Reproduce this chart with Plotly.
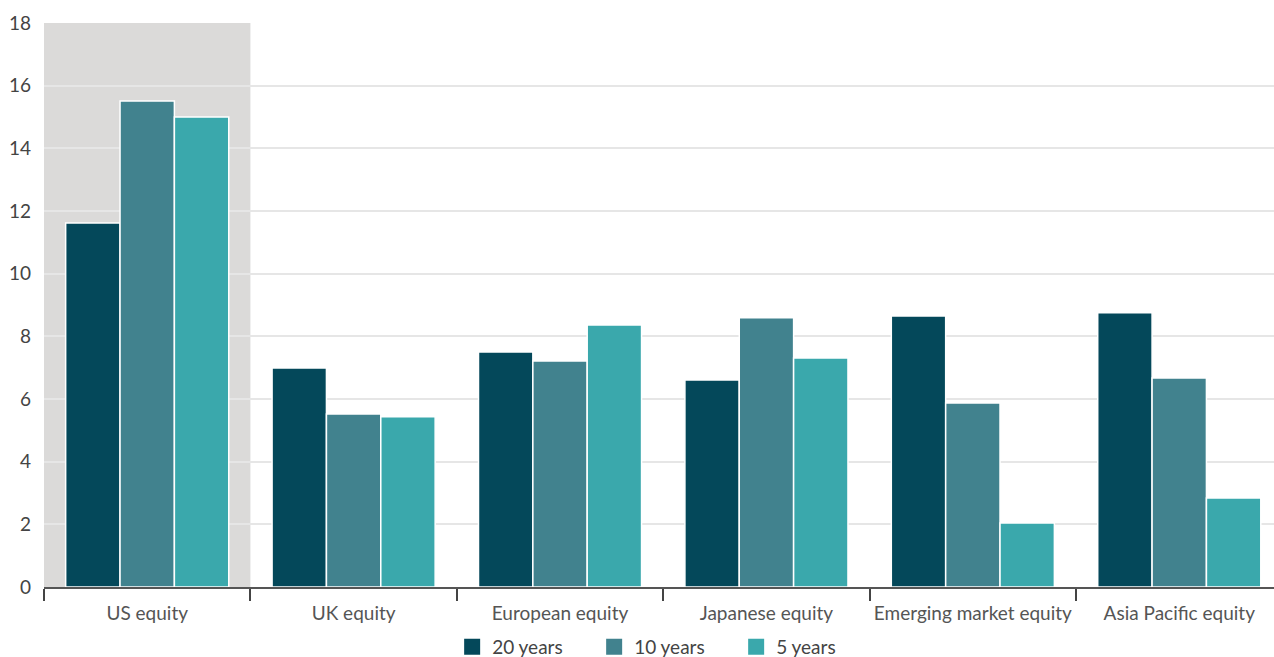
import plotly.graph_objects as go

categories = ["US equity", "UK equity", "European equity", "Japanese equity",
              "Emerging market equity", "Asia Pacific equity"]
series_names = ["20 years", "10 years", "5 years"]
returns_20y = [11.62, 6.99, 7.50, 6.61, 8.65, 8.75]
returns_10y = [15.51, 5.52, 7.21, 8.59, 5.87, 6.67]
returns_5y = [15.00, 5.43, 8.36, 7.31, 2.04, 2.84]
y_ticks = [0, 2, 4, 6, 8, 10, 12, 14, 16, 18]

colors = ["#04485a", "#41828e", "#3aa8ac"]
font_family = "Lato, 'Open Sans', sans-serif"

fig = go.Figure()
for name, vals, col in zip(series_names, [returns_20y, returns_10y, returns_5y], colors):
    fig.add_trace(go.Bar(
        x=categories, y=vals, name=name,
        marker=dict(color=col, line=dict(color="white", width=1.5)),
        showlegend=False,
    ))
    # legend entry with a larger square swatch
    fig.add_trace(go.Scatter(
        x=[None], y=[None], mode="markers", name=name,
        marker=dict(symbol="square", size=18, color=col),
    ))

# highlight the first category
fig.add_shape(type="rect", xref="x", yref="paper", x0=-0.5, x1=0.5, y0=0, y1=1,
              fillcolor="#dbdad9", line=dict(width=0), layer="below")

fig.update_layout(
    width=1274, height=657,
    margin=dict(l=44, r=0, t=23, b=70, autoexpand=False),
    paper_bgcolor="white", plot_bgcolor="white",
    barmode="group", bargap=0.21, bargroupgap=0,
    font=dict(family=font_family, size=19, color="#444"),
    legend=dict(orientation="h", x=0.505, xanchor="center",
                yref="container", y=0.0152, yanchor="middle",
                font=dict(size=19, color="#444"), itemwidth=30,
                tracegroupgap=0, entrywidth=97),
)
fig.update_xaxes(
    range=[-0.5, 5.459], tickson="boundaries", ticks="outside", ticklen=12,
    tickwidth=1.5, tickcolor="#444", showline=True, linecolor="#555", linewidth=2,
    tickfont=dict(size=19, color="#555"), tickangle=0, showgrid=False, fixedrange=True,
    ticklabelstandoff=8,
)
fig.update_yaxes(
    range=[0, 18], tickvals=y_ticks, showgrid=True, gridcolor="#e6e6e6", gridwidth=1.5,
    zeroline=False, showline=False, tickfont=dict(size=19, color="#444"),
    ticks="", ticklabelstandoff=12,
)

fig.write_html("out.html")
